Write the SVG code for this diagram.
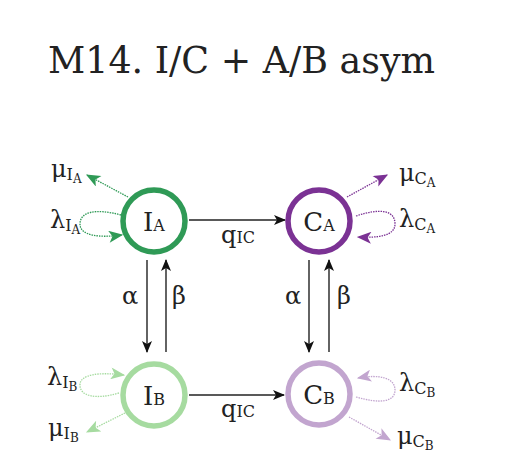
<svg xmlns="http://www.w3.org/2000/svg" width="509" height="468" viewBox="0 0 509 468">
<defs>
<style>
text{font-family:"DejaVu Serif","Liberation Serif",serif;fill:#222}
.lbl{font-size:24px}
.nl{font-size:26px;text-anchor:middle}
.sub{font-size:16px}
.ss{font-size:12px}
.node{fill:#fff;stroke-width:5.5}
.flow{stroke:#222;stroke-width:1.4;fill:none}
.dot{stroke-width:1.3;fill:none;stroke-dasharray:1.5 1}
</style>
<marker id="ak" viewBox="0 0 12 10" refX="11" refY="5" markerWidth="12" markerHeight="10" markerUnits="userSpaceOnUse" orient="auto"><path d="M0,0 L12,5 L0,10 L3,5 z" fill="#111"/></marker>
<marker id="ag1" viewBox="0 0 12 10" refX="11" refY="5" markerWidth="15" markerHeight="12" markerUnits="userSpaceOnUse" orient="auto"><path d="M0,0 L12,5 L0,10 L3,5 z" fill="#2f9a56"/></marker>
<marker id="ap1" viewBox="0 0 12 10" refX="11" refY="5" markerWidth="15" markerHeight="12" markerUnits="userSpaceOnUse" orient="auto"><path d="M0,0 L12,5 L0,10 L3,5 z" fill="#7b3294"/></marker>
<marker id="ag2" viewBox="0 0 12 10" refX="11" refY="5" markerWidth="15" markerHeight="12" markerUnits="userSpaceOnUse" orient="auto"><path d="M0,0 L12,5 L0,10 L3,5 z" fill="#a6dba0"/></marker>
<marker id="ap2" viewBox="0 0 12 10" refX="11" refY="5" markerWidth="15" markerHeight="12" markerUnits="userSpaceOnUse" orient="auto"><path d="M0,0 L12,5 L0,10 L3,5 z" fill="#c2a5cf"/></marker>
</defs>
<rect width="509" height="468" fill="#fff"/>
<text x="48" y="73" font-size="38" textLength="387" lengthAdjust="spacingAndGlyphs">M14. I/C + A/B asym</text>

<g id="connectors">
<line class="flow" x1="189" y1="220" x2="285" y2="220" marker-end="url(#ak)"/>
<text class="lbl" x="221" y="243">q<tspan class="sub">IC</tspan></text>
<line class="flow" x1="189" y1="395" x2="284" y2="395" marker-end="url(#ak)"/>
<text class="lbl" x="221" y="417">q<tspan class="sub">IC</tspan></text>

<line class="flow" x1="147" y1="260" x2="147" y2="352" marker-end="url(#ak)"/>
<line class="flow" x1="166" y1="352" x2="166" y2="260" marker-end="url(#ak)"/>
<text class="lbl" x="122" y="304">α</text>
<text class="lbl" x="172" y="304">β</text>
<line class="flow" x1="309" y1="260" x2="309" y2="352" marker-end="url(#ak)"/>
<line class="flow" x1="329" y1="352" x2="329" y2="260" marker-end="url(#ak)"/>
<text class="lbl" x="285" y="304">α</text>
<text class="lbl" x="337" y="304">β</text>

<line class="dot" stroke="#2f9a56" x1="128" y1="197" x2="87" y2="175" marker-end="url(#ag1)"/>
<path class="dot" stroke="#2f9a56" d="M121,215 C95,208 80,212 80,224 C80,236 100,238 122,235" marker-end="url(#ag1)"/>
<text class="lbl" x="51" y="177">μ<tspan class="sub" dy="3">I</tspan><tspan class="ss" dy="3">A</tspan></text>
<text class="lbl" x="50" y="228">λ<tspan class="sub" dy="3">I</tspan><tspan class="ss" dy="3">A</tspan></text>

<line class="dot" stroke="#7b3294" x1="347" y1="197" x2="387" y2="175" marker-end="url(#ap1)"/>
<path class="dot" stroke="#7b3294" d="M356,216 C380,208 395,210 395,224 C395,236 378,238 358,237" marker-end="url(#ap1)"/>
<text class="lbl" x="399" y="181">μ<tspan class="sub" dy="3">C</tspan><tspan class="ss" dy="3">A</tspan></text>
<text class="lbl" x="399" y="227">λ<tspan class="sub" dy="3">C</tspan><tspan class="ss" dy="3">A</tspan></text>

<path class="dot" stroke="#a6dba0" d="M119,393 C95,400 80,396 80,385 C80,374 100,372 124,375" marker-end="url(#ag2)"/>
<line class="dot" stroke="#a6dba0" x1="125" y1="413" x2="87" y2="432" marker-end="url(#ag2)"/>
<text class="lbl" x="47" y="385">λ<tspan class="sub" dy="3">I</tspan><tspan class="ss" dy="3">B</tspan></text>
<text class="lbl" x="48" y="436">μ<tspan class="sub" dy="3">I</tspan><tspan class="ss" dy="3">B</tspan></text>

<path class="dot" stroke="#c2a5cf" d="M356,397 C380,404 395,402 395,390 C395,378 380,374 358,378" marker-end="url(#ap2)"/>
<line class="dot" stroke="#c2a5cf" x1="349" y1="417" x2="390" y2="440" marker-end="url(#ap2)"/>
<text class="lbl" x="399" y="391">λ<tspan class="sub" dy="3">C</tspan><tspan class="ss" dy="3">B</tspan></text>
<text class="lbl" x="397" y="444">μ<tspan class="sub" dy="3">C</tspan><tspan class="ss" dy="3">B</tspan></text>
</g>

<g id="node-IA">
<circle class="node" cx="154" cy="221" r="31" stroke="#2f9a56"/>
<text class="nl" x="154" y="231">I<tspan class="sub">A</tspan></text>
</g>
<g id="node-CA">
<circle class="node" cx="319" cy="221" r="31" stroke="#7b3294"/>
<text class="nl" x="319" y="231">C<tspan class="sub">A</tspan></text>
</g>
<g id="node-IB">
<circle class="node" cx="154" cy="395" r="31" stroke="#a6dba0"/>
<text class="nl" x="154" y="405">I<tspan class="sub">B</tspan></text>
</g>
<g id="node-CB">
<circle class="node" cx="319" cy="394" r="31" stroke="#c2a5cf"/>
<text class="nl" x="319" y="404">C<tspan class="sub">B</tspan></text>
</g>
</svg>
